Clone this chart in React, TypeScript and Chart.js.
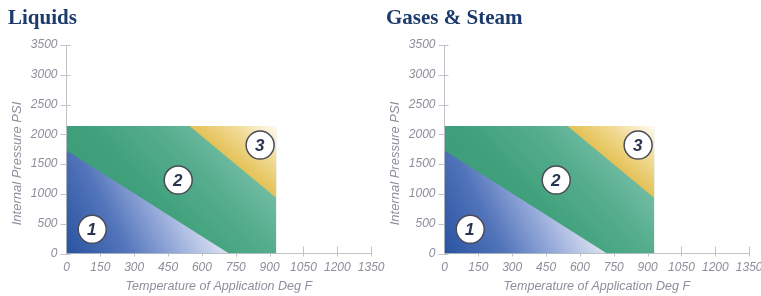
import React, { useEffect, useRef } from "react";
import { Chart, registerables } from "chart.js";

Chart.register(...registerables);

// ---------- data ----------
const PANEL_TITLES = ["Liquids", "Gases & Steam"];
const X_TITLE = "Temperature of Application Deg F";
const Y_TITLE = "Internal Pressure PSI";
const X_TICKS = [0, 150, 300, 450, 600, 750, 900, 1050, 1200, 1350];
const Y_TICKS = [0, 500, 1000, 1500, 2000, 2500, 3000, 3500];
const MARKER_LABELS = ["1", "2", "3"];

// Liquids
const LIQ_ENVELOPE_TEMP = [0, 930];
const LIQ_ENVELOPE_PSI = [2140, 2140];
const LIQ_ZONE1_TEMP = [0, 720];
const LIQ_ZONE1_PSI = [1730, 0];
const LIQ_ZONE3_TEMP = [545, 930];
const LIQ_ZONE3_PSI = [2140, 930];
const LIQ_MARKER_TEMP = [114, 495, 858];
const LIQ_MARKER_PSI = [406, 1233, 1820];

// Gases & Steam
const GAS_ENVELOPE_TEMP = [0, 930];
const GAS_ENVELOPE_PSI = [2140, 2140];
const GAS_ZONE1_TEMP = [0, 720];
const GAS_ZONE1_PSI = [1730, 0];
const GAS_ZONE3_TEMP = [545, 930];
const GAS_ZONE3_PSI = [2140, 930];
const GAS_MARKER_TEMP = [114, 495, 858];
const GAS_MARKER_PSI = [406, 1233, 1820];

// ---------- style ----------
const SANS = "'Liberation Sans', Arial, sans-serif";
const SERIF = "'Liberation Serif', 'Times New Roman', serif";
const GRAY = "#8e8e9c";
const AXIS = "#c2c2ca";
const NAVY = "#1b3b6c";

const zip = (xs: number[], ys: number[]) => xs.map((x, i) => ({ x, y: ys[i] }));

const blueGrad = (c: any) => {
  const chart = c.chart;
  const { x, y } = chart.scales;
  if (!chart.chartArea || !x || !y) return "#5a7cc0";
  const x0 = x.getPixelForValue(0), y0 = y.getPixelForValue(0);
  const g = chart.ctx.createLinearGradient(x0, y0, x0 + 162, y0 - 80);
  g.addColorStop(0, "#2a53a1");
  g.addColorStop(0.3, "#5274ba");
  g.addColorStop(0.55, "#97abda");
  g.addColorStop(0.8, "#dde2f2");
  g.addColorStop(1, "#ffffff");
  return g;
};

const greenGrad = (c: any) => {
  const chart = c.chart;
  const { x, y } = chart.scales;
  if (!chart.chartArea || !x || !y) return "#45a581";
  const x0 = x.getPixelForValue(0), y0 = y.getPixelForValue(0);
  const g = chart.ctx.createLinearGradient(x0, y0, x0 + 200, y0 - 190);
  g.addColorStop(0, "#379b74");
  g.addColorStop(0.35, "#3fa07b");
  g.addColorStop(0.55, "#55ad8d");
  g.addColorStop(0.7, "#72bca4");
  g.addColorStop(1, "#b5dccf");
  return g;
};

const makeYellowGrad = (temps: number[], psis: number[], top: number) => (c: any) => {
  const chart = c.chart;
  const { x, y } = chart.scales;
  if (!chart.chartArea || !x || !y) return "#eed48a";
  const px = x.getPixelForValue(temps[0]), py = y.getPixelForValue(psis[0]);
  const qx = x.getPixelForValue(temps[1]), qy = y.getPixelForValue(psis[1]);
  const cx = qx, cy = y.getPixelForValue(top);
  const dx = qx - px, dy = qy - py;
  const s = ((cx - px) * dx + (cy - py) * dy) / (dx * dx + dy * dy);
  const fx = px + s * dx, fy = py + s * dy;
  const g = chart.ctx.createLinearGradient(fx, fy, cx, cy);
  g.addColorStop(0, "#e4c257");
  g.addColorStop(0.5, "#f1da95");
  g.addColorStop(1, "#fffbf2");
  return g;
};

const tickMarks = {
  id: "tickMarks",
  beforeDatasetsDraw(chart: any) {
    const { ctx, chartArea, scales } = chart;
    const { x, y } = scales;
    ctx.save();
    ctx.strokeStyle = AXIS;
    ctx.lineWidth = 1;
    ctx.beginPath();
    x.ticks.forEach((t: any) => {
      if (t.value === 0) return;
      const p = Math.round(x.getPixelForValue(t.value)) + 0.5;
      ctx.moveTo(p, chartArea.bottom - 7);
      ctx.lineTo(p, chartArea.bottom + 3);
    });
    y.ticks.forEach((t: any) => {
      const p = Math.round(y.getPixelForValue(t.value)) + 0.5;
      ctx.moveTo(chartArea.left - 6, p);
      ctx.lineTo(chartArea.left + 4, p);
    });
    ctx.stroke();
    ctx.restore();
  },
};

const yTitle = {
  id: "yTitle",
  afterDraw(chart: any) {
    const { ctx, chartArea } = chart;
    ctx.save();
    ctx.translate(chartArea.left - 49.5, chartArea.bottom - 90);
    ctx.rotate(-Math.PI / 2);
    ctx.font = `italic 13px ${SANS}`;
    ctx.fillStyle = GRAY;
    ctx.textAlign = "center";
    ctx.textBaseline = "middle";
    ctx.fillText(Y_TITLE, 0, 0);
    ctx.restore();
  },
};

const markerText = {
  id: "markerText",
  afterDatasetsDraw(chart: any) {
    const { ctx } = chart;
    const meta = chart.getDatasetMeta(0);
    ctx.save();
    ctx.font = `italic bold 17px ${SANS}`;
    ctx.fillStyle = "#2a3450";
    ctx.textAlign = "center";
    ctx.textBaseline = "middle";
    meta.data.forEach((pt: any, i: number) => {
      ctx.fillText(MARKER_LABELS[i], pt.x - 0.5, pt.y + 1);
    });
    ctx.restore();
  },
};

type PanelData = {
  title: string;
  envTemp: number[];
  envPsi: number[];
  z1Temp: number[];
  z1Psi: number[];
  z3Temp: number[];
  z3Psi: number[];
  mTemp: number[];
  mPsi: number[];
};

const PANELS: PanelData[] = [
  {
    title: PANEL_TITLES[0],
    envTemp: LIQ_ENVELOPE_TEMP, envPsi: LIQ_ENVELOPE_PSI,
    z1Temp: LIQ_ZONE1_TEMP, z1Psi: LIQ_ZONE1_PSI,
    z3Temp: LIQ_ZONE3_TEMP, z3Psi: LIQ_ZONE3_PSI,
    mTemp: LIQ_MARKER_TEMP, mPsi: LIQ_MARKER_PSI,
  },
  {
    title: PANEL_TITLES[1],
    envTemp: GAS_ENVELOPE_TEMP, envPsi: GAS_ENVELOPE_PSI,
    z1Temp: GAS_ZONE1_TEMP, z1Psi: GAS_ZONE1_PSI,
    z3Temp: GAS_ZONE3_TEMP, z3Psi: GAS_ZONE3_PSI,
    mTemp: GAS_MARKER_TEMP, mPsi: GAS_MARKER_PSI,
  },
];

function makeConfig(p: PanelData): any {
  const top = p.envPsi[0];
  const hidden = { borderWidth: 0, borderColor: "rgba(0,0,0,0)", pointRadius: 0, pointHoverRadius: 0, tension: 0 };
  const tickFont = { family: SANS, size: 12, style: "italic" as const, lineHeight: 1.2 };
  return {
    type: "line",
    data: {
      datasets: [
        {
          label: "markers",
          data: zip(p.mTemp, p.mPsi),
          showLine: false,
          pointRadius: 14,
          pointHoverRadius: 14,
          pointBackgroundColor: "#ffffff",
          pointBorderColor: "#4b4b57",
          pointBorderWidth: 1.5,
          fill: false,
        },
        { label: "Zone 1", data: zip(p.z1Temp, p.z1Psi), ...hidden, fill: "origin", backgroundColor: blueGrad },
        {
          label: "Zone 3",
          data: zip(p.z3Temp, p.z3Temp.map(() => top)),
          ...hidden,
          fill: "+1",
          backgroundColor: makeYellowGrad(p.z3Temp, p.z3Psi, top),
        },
        { label: "Zone 3 edge", data: zip(p.z3Temp, p.z3Psi), ...hidden, fill: false },
        { label: "Zone 2", data: zip(p.envTemp, p.envPsi), ...hidden, fill: "origin", backgroundColor: greenGrad },
      ],
    },
    options: {
      responsive: false,
      animation: false,
      events: [],
      layout: { padding: { left: 8, right: 0, top: 0, bottom: 0 } },
      plugins: {
        legend: { display: false },
        tooltip: { enabled: false },
        title: {
          display: true,
          text: p.title,
          align: "start",
          color: NAVY,
          font: { family: SERIF, size: 21, weight: "bold", lineHeight: 1.2 },
          padding: { top: 6.3, bottom: 13.5 },
        },
      },
      scales: {
        x: {
          type: "linear",
          min: X_TICKS[0],
          max: X_TICKS[X_TICKS.length - 1],
          afterBuildTicks: (s: any) => { s.ticks = X_TICKS.map((v) => ({ value: v })); },
          ticks: { autoSkip: false, maxRotation: 0, color: GRAY, font: tickFont, padding: 6.5, callback: (v: any) => String(v) },
          grid: { display: true, drawOnChartArea: false, drawTicks: false },
          border: { display: true, color: AXIS, width: 1 },
          title: { display: true, text: X_TITLE, color: GRAY, font: { family: SANS, size: 12.5, style: "italic", lineHeight: 1.2 }, padding: { top: 0, bottom: 2 } },
          afterFit: (s: any) => { s.height = 42.5; },
        },
        y: {
          type: "linear",
          min: Y_TICKS[0],
          max: Y_TICKS[Y_TICKS.length - 1],
          afterBuildTicks: (s: any) => { s.ticks = Y_TICKS.map((v) => ({ value: v })); },
          ticks: { autoSkip: false, color: GRAY, font: tickFont, padding: 9, callback: (v: any) => String(v) },
          grid: { display: true, drawOnChartArea: false, drawTicks: false },
          border: { display: true, color: AXIS, width: 1 },
          afterFit: (s: any) => { s.width = 58.5; },
        },
      },
    },
    plugins: [tickMarks, yTitle, markerText],
  };
}

const CANVAS_W = 391;

function Panel({ data, left }: { data: PanelData; left: number }) {
  const ref = useRef<HTMLCanvasElement | null>(null);
  useEffect(() => {
    if (!ref.current) return;
    const chart = new Chart(ref.current, makeConfig(data));
    return () => chart.destroy();
  }, [data]);
  return (
    <canvas
      ref={ref}
      width={CANVAS_W}
      height={296}
      style={{ position: "absolute", left, top: 0, width: CANVAS_W, height: 296 }}
    />
  );
}

export default function App() {
  return (
    <div
      style={{
        position: "fixed",
        left: 0,
        top: 0,
        width: 761,
        height: 296,
        overflow: "hidden",
        background: "#ffffff",
      }}
    >
      <Panel data={PANELS[0]} left={0} />
      <Panel data={PANELS[1]} left={378} />
    </div>
  );
}
